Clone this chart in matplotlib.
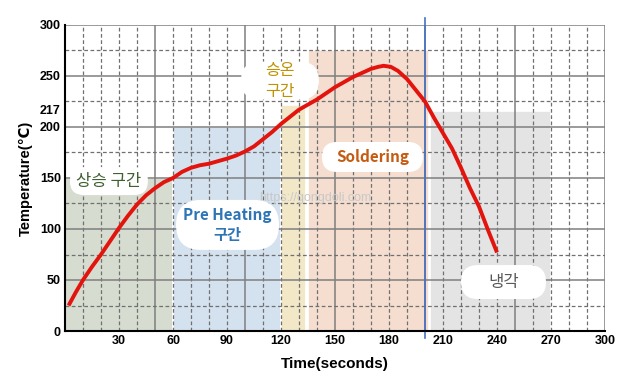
import matplotlib
matplotlib.use("Agg")
import matplotlib.pyplot as plt
import numpy as np
from matplotlib.patches import FancyBboxPatch

plt.rcParams['font.family'] = ['Liberation Sans', 'DejaVu Sans']

# reflow profile
time_s = [2, 6, 10, 15, 20, 25, 30, 35, 40, 45, 50, 55, 60, 65, 70, 75, 80,
          85, 90, 95, 100, 105, 110, 115, 120, 125, 130, 135, 140, 145, 150,
          155, 160, 165, 170, 174, 177, 181, 185, 190, 195, 200, 205, 210,
          215, 220, 225, 230, 235, 240]
temp_c = [25, 38, 50, 63, 75, 88, 101, 113, 124, 133, 140, 146, 150, 156, 160,
          162.5, 164, 166.5, 169, 172, 176, 181, 188, 195, 203, 210, 217, 222,
          227, 233, 239, 244, 249, 253, 257, 259, 260, 259, 255, 247, 236,
          225, 209, 194, 179, 160, 140, 122, 99, 77]

# shaded zones
zone_start = [0, 60, 120, 135, 203]
zone_end = [60, 120, 134, 202, 270]
zone_top = [150, 200, 222, 275, 216]
zone_color = ['#d6dccf', '#d4e1ef', '#f2e8c8', '#f5ddd0', '#e4e4e4']

x_ticks = [30, 60, 90, 120, 150, 180, 210, 240, 270, 300]
y_ticks = [0, 50, 100, 150, 200, 217, 250, 300]

W, H = 627, 385
fig = plt.figure(figsize=(W / 100, H / 100), dpi=100)
L, R, B, T = 65, 605, 331, 25
ax = fig.add_axes([L / W, 1 - B / H, (R - L) / W, (B - T) / H])
ax.set_xlim(0, 300)
ax.set_ylim(0, 300)
sx = (R - L) / 300.0   # px per second
sy = (B - T) / 300.0   # px per degree

# zones
ax.bar(zone_start, zone_top, width=np.array(zone_end) - np.array(zone_start),
       align='edge', color=zone_color, edgecolor='white', linewidth=1.2, zorder=1)

# grid
for v in np.arange(10, 301, 10):
    if v % 50 == 0:
        ax.axvline(v, color='#7f7f7f', lw=1.1, zorder=1.5)
    else:
        ax.axvline(v, color='#707070', lw=0.9, ls=(0, (3, 2)), zorder=1.5)
for h in np.arange(25, 301, 25):
    if h % 50 == 0:
        ax.axhline(h, color='#7f7f7f', lw=1.1, zorder=1.5)
    else:
        ax.axhline(h, color='#707070', lw=0.9, ls=(0, (3, 2)), zorder=1.5)

ax.axvline(200, ymin=-0.023, ymax=1.023, color='#4472c4', lw=1.2, clip_on=False, zorder=2)

ax.plot(time_s, temp_c, color='#e3140e', lw=2.8, solid_capstyle='butt', zorder=3)

for s in ['top', 'right']:
    ax.spines[s].set_visible(False)
for s in ['left', 'bottom']:
    ax.spines[s].set_linewidth(1.5)
    ax.spines[s].set_zorder(4)

ax.set_xticks(x_ticks)
ax.set_yticks(y_ticks)
ax.tick_params(length=0, pad=3, labelsize=9)
for lab in ax.get_xticklabels() + ax.get_yticklabels():
    lab.set_fontweight('bold')

ax.set_xlabel('Time(seconds)', fontsize=11, fontweight='bold', labelpad=7)
ax.set_ylabel('Temperature(℃)', fontsize=10.5, fontweight='bold', labelpad=5)


def label_box(cx, cy, w, h, text, color, bold=False, size=11, ls=1.35):
    bw, bh = w / sx, h / sy
    r = min(w, h) / 2.0 / sx
    ax.add_patch(FancyBboxPatch((cx - bw / 2, cy - bh / 2), bw, bh,
                                boxstyle='round,pad=0,rounding_size=%f' % r,
                                mutation_aspect=sx / sy, fc='white', ec='none',
                                zorder=5))
    ax.text(cx, cy, text, ha='center', va='center', color=color, fontsize=size,
            fontweight='bold' if bold else 'medium', linespacing=ls,
            family=['Noto Sans CJK KR', 'DejaVu Sans'], zorder=6)


label_box(24.4, 147, 78, 28, '상승 구간', '#3f6130', size=12)
label_box(90.3, 104, 103, 50, 'Pre Heating\n구간', '#2e75b6', bold=True, size=11, ls=1.25)
label_box(170.8, 170.6, 101, 30, 'Soldering', '#c55a11', bold=True, size=11)
label_box(119.4, 245.5, 78, 38, '승온\n구간', '#bf9000', size=11.5, ls=1.3)
label_box(243.6, 48, 85, 34, '냉각', '#595959', size=12)

ax.text(139, 130, 'https://gongdoli.com', color='#c8c8c8', fontsize=9,
        ha='center', va='center', zorder=2.5)

fig.savefig('out.png', dpi=100)
